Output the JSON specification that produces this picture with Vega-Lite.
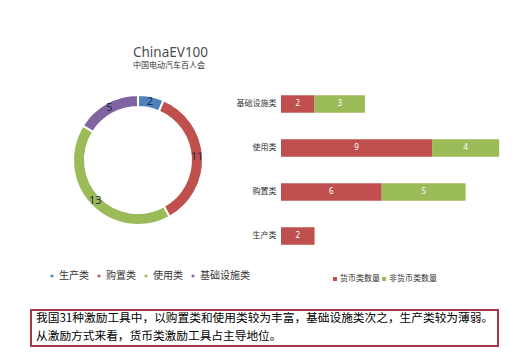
{
  "$schema": "https://vega.github.io/schema/vega-lite/v6.json",
  "background": "white",
  "autosize": {"type": "pad"},
  "padding": {"left": 30, "top": 45, "right": 5, "bottom": 5},
  "title": {
    "text": "ChinaEV100",
    "subtitle": "中国电动汽车百人会",
    "anchor": "start",
    "dx": 103,
    "offset": 12,
    "font": "Noto Sans",
    "fontSize": 13.5,
    "fontWeight": "normal",
    "color": "#4d4d4d",
    "subtitleFont": "Noto Sans CJK SC",
    "subtitleFontSize": 8,
    "subtitleColor": "#333333",
    "subtitlePadding": 3
  },
  "config": {"view": {"stroke": null}, "font": "Noto Sans CJK SC"},
  "datasets": {
    "donut": [
      {"cat": "生产类", "idx": 1, "n": 2},
      {"cat": "购置类", "idx": 2, "n": 11},
      {"cat": "使用类", "idx": 3, "n": 13},
      {"cat": "基础设施类", "idx": 4, "n": 5}
    ],
    "bars": [
      {"cat": "基础设施类", "type": "货币类数量", "k": 1, "n": 2},
      {"cat": "基础设施类", "type": "非货币类数量", "k": 2, "n": 3},
      {"cat": "使用类", "type": "货币类数量", "k": 1, "n": 9},
      {"cat": "使用类", "type": "非货币类数量", "k": 2, "n": 4},
      {"cat": "购置类", "type": "货币类数量", "k": 1, "n": 6},
      {"cat": "购置类", "type": "非货币类数量", "k": 2, "n": 5},
      {"cat": "生产类", "type": "货币类数量", "k": 1, "n": 2}
    ],
    "note": [
      {"line": 1, "text": "我国31种激励工具中，以购置类和使用类较为丰富，基础设施类次之，生产类较为薄弱。"},
      {"line": 2, "text": "从激励方式来看，货币类激励工具占主导地位。"}
    ]
  },
  "spacing": 26,
  "vconcat": [
    {
      "bounds": "flush",
      "spacing": 36,
      "resolve": {"scale": {"color": "independent"}, "legend": {"color": "independent"}},
      "hconcat": [
        {
          "width": 214,
          "height": 156,
          "data": {"name": "donut"},
          "encoding": {
            "theta": {"field": "n", "type": "quantitative", "stack": true},
            "order": {"field": "idx", "type": "quantitative"},
            "color": {
              "field": "cat",
              "type": "nominal",
              "scale": {
                "domain": ["生产类", "购置类", "使用类", "基础设施类"],
                "range": ["#4f81bd", "#c0504d", "#9bbb59", "#8064a2"]
              },
              "legend": {
                "orient": "none",
                "legendX": 16,
                "legendY": 189,
                "direction": "horizontal",
                "gridAlign": "none",
                "title": null,
                "symbolType": "square",
                "symbolSize": 18,
                "symbolOffset": 0,
                "labelOffset": 2,
                "labelFontSize": 10,
                "labelColor": "#333333",
                "columnPadding": 4
              }
            }
          },
          "layer": [
            {"mark": {"type": "arc", "radius": 65, "radius2": 53, "stroke": "white", "strokeWidth": 2}},
            {
              "mark": {"type": "text", "radius": 59, "fontSize": 11, "font": "Noto Sans"},
              "encoding": {"text": {"field": "n"}, "color": {"value": "#1f2a44"}}
            }
          ]
        },
        {
          "width": 235,
          "height": 176,
          "data": {"name": "bars"},
          "transform": [
            {"stack": "n", "groupby": ["cat"], "sort": [{"field": "k"}], "as": ["x0", "x1"]},
            {"calculate": "(datum.x0 + datum.x1) / 2", "as": "xm"}
          ],
          "encoding": {
            "y": {
              "field": "cat",
              "type": "nominal",
              "sort": ["基础设施类", "使用类", "购置类", "生产类"],
              "scale": {"paddingInner": 0.6, "paddingOuter": 0.3},
              "axis": {"title": null, "domain": false, "ticks": false, "labelFontSize": 8, "labelColor": "#333333", "labelPadding": 5}
            }
          },
          "layer": [
            {
              "mark": {"type": "bar"},
              "encoding": {
                "x": {"field": "x0", "type": "quantitative", "scale": {"domain": [0, 14]}, "axis": null},
                "x2": {"field": "x1"},
                "color": {
                  "field": "type",
                  "type": "nominal",
                  "scale": {"domain": ["货币类数量", "非货币类数量"], "range": ["#c0504d", "#9bbb59"]},
                  "legend": {
                    "orient": "none",
                    "legendX": 50,
                    "legendY": 193,
                    "direction": "horizontal",
                    "gridAlign": "none",
                    "title": null,
                    "symbolType": "square",
                    "symbolSize": 16,
                    "symbolOffset": 0,
                    "labelOffset": 1,
                    "labelFontSize": 8,
                    "labelColor": "#333333",
                    "columnPadding": 0
                  }
                }
              }
            },
            {
              "mark": {"type": "text", "color": "white", "fontSize": 8, "font": "Noto Sans"},
              "encoding": {
                "x": {"field": "xm", "type": "quantitative"},
                "text": {"field": "n"}
              }
            }
          ]
        }
      ]
    },
    {
      "width": 467,
      "height": 36,
      "view": {"stroke": "#a33a45", "strokeWidth": 2},
      "data": {"name": "note"},
      "mark": {"type": "text", "align": "left", "x": 5, "dy": -1, "fontSize": 11.7, "color": "black"},
      "encoding": {
        "y": {"field": "line", "type": "ordinal", "axis": null, "scale": {"paddingOuter": 0.1, "paddingInner": 0}},
        "text": {"field": "text"}
      }
    }
  ]
}
